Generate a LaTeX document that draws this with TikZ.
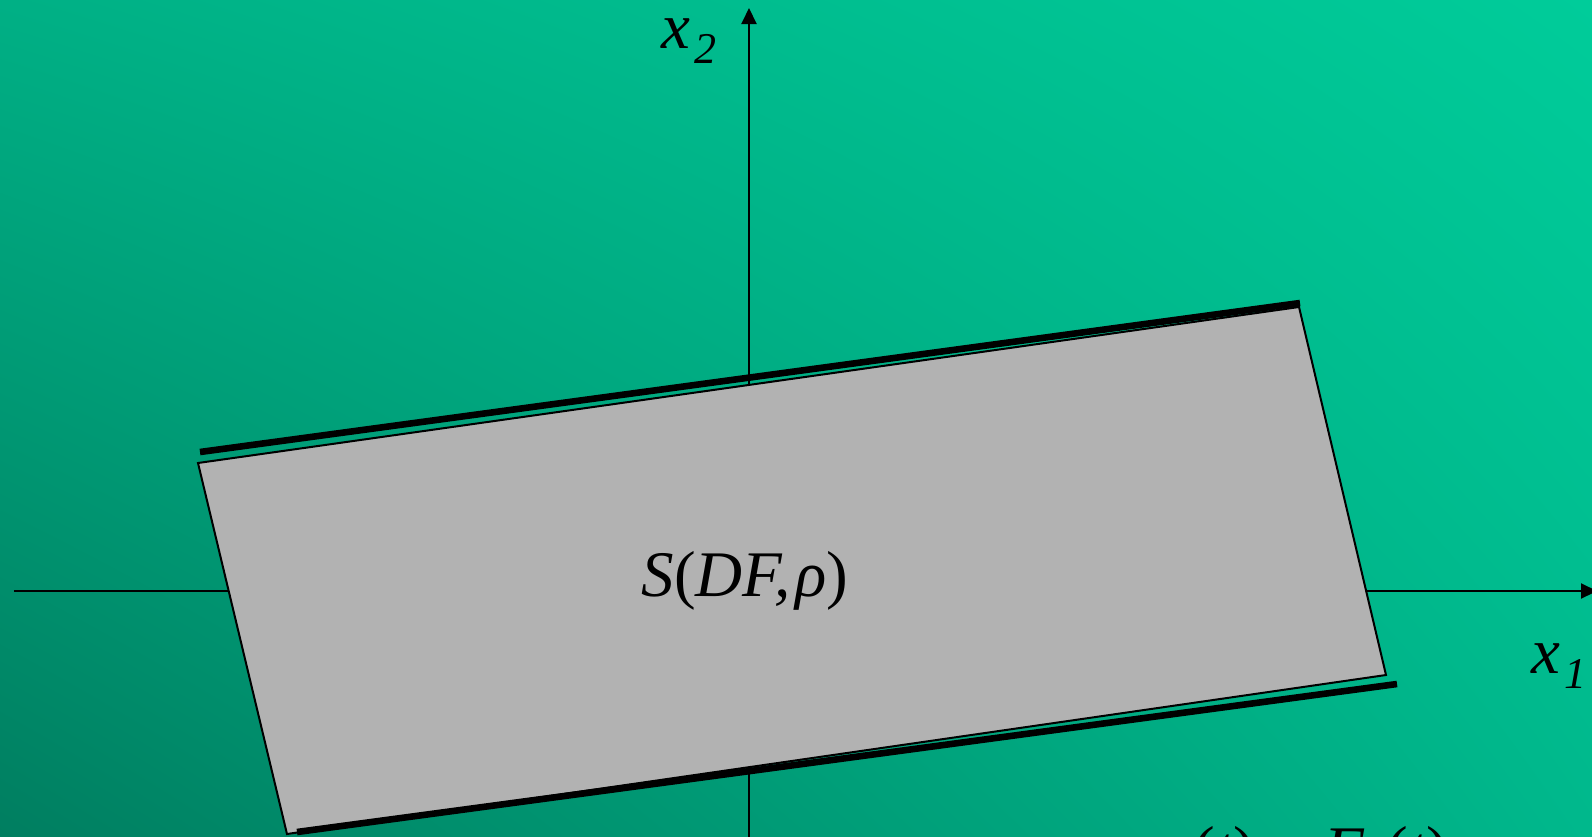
\documentclass[tikz,border=0pt]{standalone}
\usepackage{fontspec}
\setmainfont{Liberation Serif}
\usetikzlibrary{arrows.meta,shadings}
\definecolor{bgll}{RGB}{0,126,96}
\definecolor{bglr}{RGB}{0,184,140}
\definecolor{bgul}{RGB}{0,176,133}
\definecolor{bgur}{RGB}{0,204,154}
\definecolor{cellgray}{RGB}{178,178,178}
\newcommand{\lowsub}[1]{\kern1pt\raisebox{-4.3pt}{\fontsize{12.5}{13}\selectfont #1}}

\begin{document}
\begin{tikzpicture}[x=0.1mm,y=-0.1mm,
  lbl/.style={inner sep=0pt,anchor=base west,font=\fontsize{18.5}{21}\selectfont\itshape},
  ax/.style={line width=0.02cm,-{Triangle[length=0.16cm,width=0.15cm]}},
  cell/.style={draw,line width=0.02cm,fill=cellgray},
  bar/.style={line width=0.066cm}]
\useasboundingbox (0,0) rectangle (1592,836);
\shade[lower left=bgll,lower right=bglr,upper left=bgul,upper right=bgur] (0,0) rectangle (1592,836);
% axes
\coordinate (h0) at (14,591); \coordinate (h1) at (1597,591);
\coordinate (v0) at (749,840); \coordinate (v1) at (749,8);
\draw[ax] (h0)--(h1);
\draw[ax] (v0)--(v1);
% the set
\coordinate (ca) at (198,463); \coordinate (cb) at (1299,307);
\coordinate (cc) at (1386,675); \coordinate (cd) at (287,834);
\filldraw[cell] (ca)--(cb)--(cc)--(cd)--cycle;
\coordinate (t0) at (200,452); \coordinate (t1) at (1300,303);
\coordinate (u0) at (297,832); \coordinate (u1) at (1397,684);
\draw[bar] (t0)--(t1);
\draw[bar] (u0)--(u1);
% labels
\node[lbl] (xtwo) at (661,48) {x\lowsub{2}};
\node[lbl] (xone) at (1531,673) {x\lowsub{1}};
\node[lbl] (set) at (641,596) {S{\upshape(}DF,\kern1.5pt ρ{\upshape)}};
\node[lbl] (eqn) at (1164,871) {x{\upshape(}t{\upshape)} {\upshape=} F\lowsub{x}{\upshape(}t{\upshape)}};
\end{tikzpicture}
\end{document}
